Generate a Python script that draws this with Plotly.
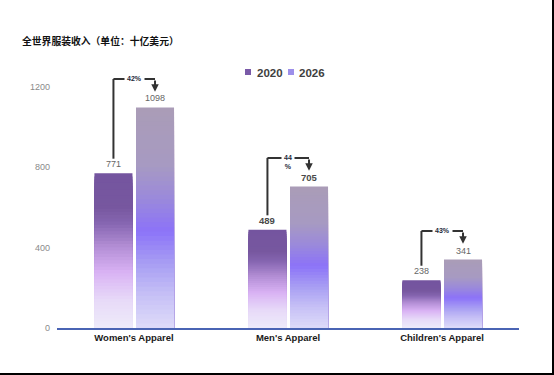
import plotly.graph_objects as go

# ---------------- data ----------------
categories = ["Women's Apparel", "Men's Apparel", "Children's Apparel"]
values_2020 = [771, 489, 238]
values_2026 = [1098, 705, 341]
series_names = ["2020", "2026"]
growth_labels = ["42%", "44<br>%", "43%"]
y_tick_values = [0, 400, 800, 1200]
y_tick_labels = ["0", "400", "800", "1200"]
title_text = "全世界服装收入（单位：十亿美元）"

# ---------------- styling ----------------
W, H = 554, 375
M_L, M_R, M_T, M_B = 57, 35, 60, 47
PLOT_W = W - M_L - M_R
PLOT_H = H - M_T - M_B
Y_MAX = 1334.4

BAR_W = 0.247
OFF_2020 = -0.257
OFF_2026 = 0.013
N_SLICES = 48

# gradient stops: (fraction from bottom of bar, colour)
stops_2020 = [(0.00, "#eeebfa"), (0.18, "#e7daf8"), (0.36, "#d9b2f4"),
              (0.52, "#b48fd6"), (0.68, "#8565b0"), (0.78, "#77579f"),
              (1.00, "#74559f")]
stops_2026 = [(0.00, "#dedbf9"), (0.15, "#c6c0f6"), (0.30, "#a69cf3"),
              (0.44, "#8c73f8"), (0.58, "#9a88dc"), (0.74, "#a79ac2"),
              (1.00, "#aa9cb7")]


def hex2rgb(h):
    h = h.lstrip("#")
    return tuple(int(h[i:i + 2], 16) for i in (0, 2, 4))


def interp(stops, t):
    for (t0, c0), (t1, c1) in zip(stops[:-1], stops[1:]):
        if t0 <= t <= t1:
            f = 0 if t1 == t0 else (t - t0) / (t1 - t0)
            a, b = hex2rgb(c0), hex2rgb(c1)
            r = [round(a[k] + (b[k] - a[k]) * f) for k in range(3)]
            return "rgb(%d,%d,%d)" % tuple(r)
    return "rgb(%d,%d,%d)" % hex2rgb(stops[-1][1])


fig = go.Figure()

# each series is drawn as nested bars (tallest first) so the colours form a
# vertical gradient without seams
for vals, stops, off in ((values_2020, stops_2020, OFF_2020),
                         (values_2026, stops_2026, OFF_2026)):
    for k in range(N_SLICES - 1, -1, -1):
        t = (k + 0.5) / N_SLICES
        fig.add_trace(go.Bar(
            x=categories,
            y=[v * (k + 1) / N_SLICES for v in vals],
            width=BAR_W, offset=off,
            marker=dict(color=interp(stops, t), line=dict(width=0)),
            showlegend=False, hoverinfo="skip",
        ))

annotations = []
shapes = []
line_col = "#333333"

for i, (v20, v26) in enumerate(zip(values_2020, values_2026)):
    x20 = i + OFF_2020 + BAR_W / 2
    x26 = i + OFF_2026 + BAR_W / 2
    men = (i == 1)
    # value labels
    for xv, v in ((x20, v20), (x26, v26)):
        annotations.append(dict(
            x=xv, y=v, xref="x", yref="y", text=str(v), showarrow=False,
            yanchor="middle", yshift=9,
            font=dict(family="Liberation Sans, Arial", size=9.5 if men else 9,
                      color="#4a4a4a" if men else "#666666",
                      weight="bold" if men else "normal"),
        ))
    # growth bracket
    y_top = v26 + 142
    y_start = v20 + 72
    y_tip = v26 + 78
    shapes.append(dict(type="line", xref="x", yref="y", x0=x20, x1=x20,
                       y0=y_start, y1=y_top, line=dict(color=line_col, width=2)))
    shapes.append(dict(type="line", xref="x", yref="y", x0=x20, x1=x26,
                       y0=y_top, y1=y_top, line=dict(color=line_col, width=2)))
    annotations.append(dict(
        x=x26, y=y_tip, xref="x", yref="y", ax=x26, ay=y_top,
        axref="x", ayref="y", text="", showarrow=True,
        arrowhead=2, arrowsize=0.75, arrowwidth=2, arrowcolor=line_col,
    ))
    annotations.append(dict(
        x=(x20 + x26) / 2, y=y_top, xref="x", yref="y",
        text=growth_labels[i], showarrow=False, bgcolor="white",
        borderpad=2, yshift=-4 if men else 0,
        font=dict(family="Liberation Sans, Arial", size=7, color="#1e2a3a",
                  weight="bold"),
    ))


def px_x(p):
    return (p - M_L) / PLOT_W


def px_y(p):
    return (H - M_B - p) / PLOT_H


# legend (compact, as in the reference)
legend_cols = ["#7a5aa8", "#9d8fea"]
legend_px = [(248, 255), (291, 297)]
for name, col, (mx, tx) in zip(series_names, legend_cols, legend_px):
    shapes.append(dict(type="rect", xref="paper", yref="paper",
                       x0=px_x(mx - 3), x1=px_x(mx + 3),
                       y0=px_y(75), y1=px_y(69),
                       fillcolor=col, line=dict(width=0)))
    annotations.append(dict(
        x=px_x(tx), y=px_y(72.5), xref="paper", yref="paper",
        xanchor="left", yanchor="middle", text="<b>%s</b>" % name,
        showarrow=False,
        font=dict(family="Liberation Sans, Arial", size=11.5, color="#404040"),
    ))

# screenshot frame (right and bottom edges)
shapes.append(dict(type="line", xref="paper", yref="paper",
                   x0=px_x(553), x1=px_x(553), y0=px_y(0), y1=px_y(375),
                   line=dict(color="black", width=2)))
shapes.append(dict(type="line", xref="paper", yref="paper",
                   x0=px_x(0), x1=px_x(554), y0=px_y(374), y1=px_y(374),
                   line=dict(color="black", width=2)))

fig.update_layout(
    width=W, height=H,
    margin=dict(l=M_L, r=M_R, t=M_T, b=M_B, pad=0),
    barmode="overlay",
    plot_bgcolor="white", paper_bgcolor="white",
    showlegend=False,
    title=dict(text="<b>%s</b>" % title_text, x=22 / W, xanchor="left",
               y=1 - 42 / H, yanchor="middle",
               font=dict(family="Noto Sans CJK SC", size=9.8, color="#111111")),
    xaxis=dict(type="category", range=[-0.5, 2.5], showline=True,
               linecolor="#4a64b4", linewidth=1.5, showgrid=False, ticks="",
               tickfont=dict(family="Liberation Sans, Arial", size=9.5,
                             color="#1a1a1a", weight="bold")),
    yaxis=dict(range=[0, Y_MAX], tickvals=y_tick_values, ticktext=y_tick_labels,
               showgrid=False, zeroline=False, showline=False, ticks="",
               ticklabelstandoff=6,
               tickfont=dict(family="Liberation Sans, Arial", size=9, color="#8a8a8a")),
    annotations=annotations,
    shapes=shapes,
)

fig.write_html("out.html",
               config={"displayModeBar": False},
               post_script="document.body.style.margin='0';")
